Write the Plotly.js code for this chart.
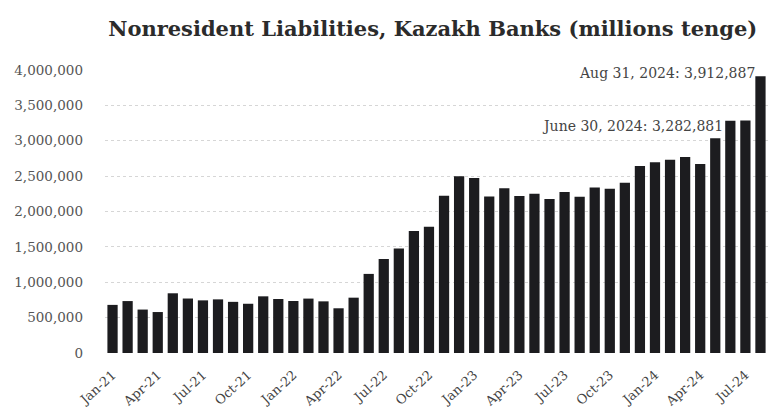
<!DOCTYPE html>
<html>
<head>
<meta charset="utf-8">
<script src="https://cdn.plot.ly/plotly-3.0.1.min.js"></script>
<style>html,body{margin:0;padding:0;background:#fff;}#chart{width:770px;height:413px;}</style>
</head>
<body>
<div id="chart"></div>
<script>
const months = [
  "Jan-21","Feb-21","Mar-21","Apr-21","May-21","Jun-21","Jul-21","Aug-21","Sep-21","Oct-21","Nov-21","Dec-21",
  "Jan-22","Feb-22","Mar-22","Apr-22","May-22","Jun-22","Jul-22","Aug-22","Sep-22","Oct-22","Nov-22","Dec-22",
  "Jan-23","Feb-23","Mar-23","Apr-23","May-23","Jun-23","Jul-23","Aug-23","Sep-23","Oct-23","Nov-23","Dec-23",
  "Jan-24","Feb-24","Mar-24","Apr-24","May-24","Jun-24","Jul-24","Aug-24"
];
const liabilities = [
  680000, 734000, 614000, 579000, 844000, 770000, 744000, 758000, 723000, 696000, 801000, 763000,
  735000, 769000, 730000, 632000, 782000, 1118000, 1330000, 1476000, 1725000, 1783000, 2221000, 2500000,
  2475000, 2213000, 2328000, 2220000, 2251000, 2177000, 2277000, 2208000, 2338000, 2321000, 2407000, 2644000,
  2697000, 2731000, 2770000, 2673000, 3037000, 3282881, 3285000, 3912887
];
const tickLabels = ["Jan-21","Apr-21","Jul-21","Oct-21","Jan-22","Apr-22","Jul-22","Oct-22","Jan-23","Apr-23","Jul-23","Oct-23","Jan-24","Apr-24","Jul-24"];
const yTicks = [0, 500000, 1000000, 1500000, 2000000, 2500000, 3000000, 3500000, 4000000];
const yTickText = ["0","500,000","1,000,000","1,500,000","2,000,000","2,500,000","3,000,000","3,500,000","4,000,000"];
const title = "Nonresident Liabilities, Kazakh Banks (millions tenge)";
const notes = [
  {month: "Aug-24", value: 3912887, text: "Aug 31, 2024: 3,912,887"},
  {month: "Jun-24", value: 3282881, text: "June 30, 2024: 3,282,881"}
];

const serif = "DejaVu Serif, Liberation Serif, serif";

const trace = {
  type: "bar",
  x: months,
  y: liabilities,
  marker: {color: "#1c1c1f"},
  hoverinfo: "x+y"
};

const layout = {
  width: 770, height: 413,
  paper_bgcolor: "#ffffff", plot_bgcolor: "#ffffff",
  margin: {l: 105, r: 2, t: 70, b: 60},
  showlegend: false,
  bargap: 0.32,
  title: {
    text: "<b>" + title + "</b>",
    x: 0.562, xanchor: "center", y: 0.93, yanchor: "middle",
    font: {family: serif, size: 21, color: "#2b2b2b"}
  },
  xaxis: {
    type: "category",
    categoryorder: "array", categoryarray: months,
    tickmode: "array", tickvals: tickLabels, ticktext: tickLabels,
    tickangle: -42,
    tickfont: {family: serif, size: 13, color: "#444"},
    ticklabelstandoff: 11,
    showgrid: false, zeroline: false, showline: false,
    ticks: "", ticklen: 0
  },
  yaxis: {
    range: [0, 4000000],
    tickmode: "array", tickvals: yTicks, ticktext: yTickText,
    tickfont: {family: serif, size: 13.5, color: "#555"},
    ticklabelstandoff: 21,
    showgrid: true, gridcolor: "#d6d6d6", griddash: "dot", gridwidth: 1,
    zeroline: false, showline: false, ticks: "", ticklen: 0
  },
  annotations: [
    {x: notes[0].month, y: notes[0].value, xref: "x", yref: "y", text: notes[0].text,
     showarrow: false, xanchor: "right", yanchor: "middle", xshift: -3, yshift: 3,
     font: {family: serif, size: 14, color: "#444"}},
    {x: notes[1].month, y: notes[1].value, xref: "x", yref: "y", text: notes[1].text,
     showarrow: false, xanchor: "right", yanchor: "middle", xshift: -5, yshift: -5,
     font: {family: serif, size: 14, color: "#444"}}
  ]
};

Plotly.newPlot("chart", [trace], layout, {displayModeBar: false, staticPlot: true});
</script>
</body>
</html>
